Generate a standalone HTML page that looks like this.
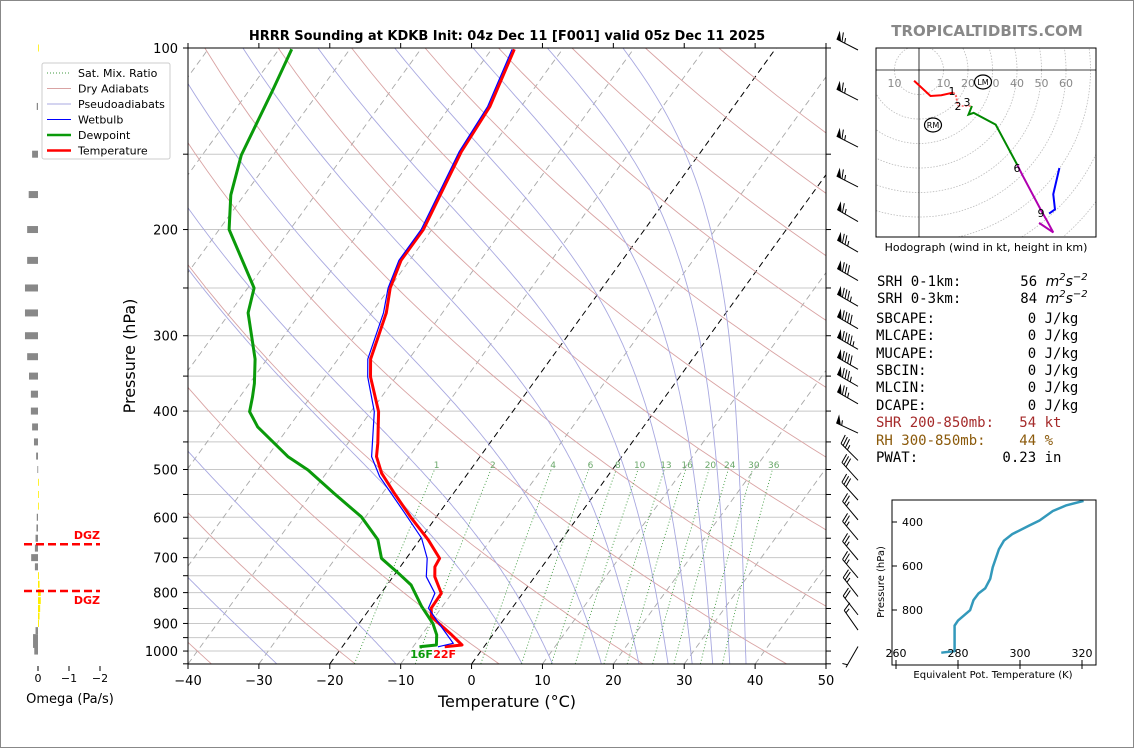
<!DOCTYPE html>
<html><head><meta charset="utf-8"><style>
html,body{margin:0;padding:0;background:#fff}
svg{display:block;font-family:"DejaVu Sans","Liberation Sans",sans-serif}
.mono{font-family:"DejaVu Sans Mono","Liberation Mono",monospace;font-size:14px}
</style></head><body>
<svg id="fig" width="1134" height="748" viewBox="0 0 1134 748" xmlns="http://www.w3.org/2000/svg">
<rect x="0.5" y="0.5" width="1133" height="747" fill="#fff" stroke="#888"/>
<defs>
<clipPath id="mainclip"><rect x="188" y="48" width="638" height="616"/></clipPath>
<clipPath id="hodoclip"><rect x="876" y="48" width="220" height="189"/></clipPath>
<clipPath id="teclip"><rect x="892" y="500" width="204" height="165"/></clipPath>
</defs>
<text x="507" y="40" text-anchor="middle" font-size="13" font-weight="bold">HRRR Sounding at KDKB Init: 04z Dec 11 [F001] valid 05z Dec 11 2025</text>
<text x="987" y="36" text-anchor="middle" font-size="15" font-weight="bold" fill="#888">TROPICALTIDBITS.COM</text>
<g id="bg" clip-path="url(#mainclip)"></g>
<g id="profiles" clip-path="url(#mainclip)"></g>
<g id="axes"></g>
<g id="barbs"></g>
<g id="omega"></g>
<g id="hodo"></g>
<g id="te"></g>
<g id="stats" class="mono">
<text xml:space="preserve" x="877" y="286">SRH 0-1km:       56 <tspan font-style="italic" font-family="DejaVu Sans">m<tspan dy="-6" font-size="10">2</tspan><tspan dy="6">s</tspan><tspan dy="-6" font-size="10">−2</tspan></tspan></text>
<text xml:space="preserve" x="877" y="303">SRH 0-3km:       84 <tspan font-style="italic" font-family="DejaVu Sans">m<tspan dy="-6" font-size="10">2</tspan><tspan dy="6">s</tspan><tspan dy="-6" font-size="10">−2</tspan></tspan></text>
<text xml:space="preserve" x="876" y="323">SBCAPE:           0 J/kg</text>
<text xml:space="preserve" x="876" y="340">MLCAPE:           0 J/kg</text>
<text xml:space="preserve" x="876" y="358">MUCAPE:           0 J/kg</text>
<text xml:space="preserve" x="876" y="375">SBCIN:            0 J/kg</text>
<text xml:space="preserve" x="876" y="392">MLCIN:            0 J/kg</text>
<text xml:space="preserve" x="876" y="410">DCAPE:            0 J/kg</text>
<text xml:space="preserve" x="876" y="427" fill="#a52a2a">SHR 200-850mb:   54 kt</text>
<text xml:space="preserve" x="876" y="445" fill="#8b5a0b">RH 300-850mb:    44 %</text>
<text xml:space="preserve" x="876" y="462">PWAT:          0.23 in</text>
</g>
</svg>
<script>
// ---------- data ----------
const tempP=[100.5,125,148.6,200,225,250,275,328,351,401,452,476,507,548,602,654,702,725,753,802,849,877,940,977,984];
const tempT=[-56.8,-54.4,-53.8,-51.2,-51.2,-49.9,-47.9,-45.4,-43.6,-38.9,-35.8,-34.6,-32.2,-28.3,-23.4,-18.8,-15.3,-15.1,-14.1,-11.5,-11.4,-10.5,-5.8,-3.3,-5.55];
const dewP=[100.5,117.4,150.5,175.3,200,226,250,275,328,360,379,401,425,476,501,548,599,654,702,743,777,844,900,940,977,984];
const dewT=[-88.2,-86.7,-84.5,-81.9,-78.6,-73.4,-69.1,-67.4,-61.7,-59.3,-58.2,-57.1,-54.4,-47.1,-42.9,-36.8,-30.6,-25.9,-23.5,-19.6,-16.6,-12.9,-9.6,-7.9,-6.9,-9.1];
const wbP=[100.5,125,148.6,200,225,250,275,328,351,401,476,514,591,650,702,753,802,849,911,971,984];
const wbT=[-57.1,-54.7,-54.1,-51.5,-51.5,-50.2,-48.3,-45.8,-44.0,-39.5,-35.3,-32.1,-24.8,-19.9,-17.05,-15.3,-12.4,-11.8,-8.1,-4.7,-6.5];
const isoTemps=[-120,-110,-100,-90,-80,-70,-60,-50,-40,-30,-20,-10,0,10,20,30,40,50];
const dryThetaC=[-100,-80,-60,-40,-20,0,20,40,60,80,100,120,140,160,180,200];
const moistStartT=[-27.5,-10.7,7.1,11.4,18.3,23.6,27.7,31.1,34.0,36.4,38.7];
const mixRatios=[1,2,4,6,8,10,13,16,20,24,30,36];
const xTicks=[-40,-30,-20,-10,0,10,20,30,40,50];
const pLabels=[100,200,300,400,500,600,700,800,900,1000];
const barbP=[100,122,146,170,194,218,243,268,292,316,341,364,389,435,483,521,562,606,654,706,756,812,871,923,983];
const barbSpd=[65,65,65,65,65,75,80,85,90,95,90,85,75,55,35,30,30,25,25,25,25,25,20,15,5];
const barbDir=[297,297,297,297,300,300,300,300,300,300,300,300,300,295,315,318,318,320,320,320,320,322,322,325,210];
const omegaP=[100,125,150,175,200,225,250,275,300,325,350,375,400,425,450,475,500,525,550,575,600,625,650,675,700,725,750,775,800,825,850,875,900,925,950,975,1000];
const omegaV=[-0.02,0.04,0.19,0.3,0.35,0.35,0.42,0.42,0.42,0.35,0.29,0.23,0.23,0.19,0.13,0.06,0.02,-0.02,-0.02,-0.02,0.04,0.05,0.08,0.1,0.22,0.1,-0.03,-0.05,-0.09,-0.09,-0.07,-0.05,-0.03,0.08,0.16,0.16,0.12];
const dgzP=[665,795];
const hodoU=[-2.0,4.7,9.1,14.0,15.1,16.0,21.6,20.2,22.3,31.3,40.2,42.3,50.0,52.0,54.8,49.0];
const hodoV=[-4.4,-10.6,-10.3,-9.2,-10.6,-14.7,-14.7,-18.2,-17.5,-22.3,-38.9,-43.1,-57.6,-61.1,-66.3,-62.4];
const hodoBlueU=[53.1,55.5,54.8,57.3];
const hodoBlueV=[-58.6,-56.9,-50.7,-40.0];
const teP=[994,987,871,848,801,755,725,701,658,606,524,485,455,416,393,350,324,304];
const teK=[274.6,278.9,278.9,280.0,283.9,285.0,286.6,288.8,290.4,291.2,293.2,294.8,297.5,303.0,306.3,310.6,315.0,320.5];
const teTicksX=[260,280,300,320];
const teTicksY=[400,600,800];

// ---------- helpers ----------
const NS='http://www.w3.org/2000/svg';
function mk(tag,attrs,parent){const e=document.createElementNS(NS,tag);for(const k in attrs)e.setAttribute(k,attrs[k]);parent.appendChild(e);return e;}
const yP=p=>48+261.9*Math.log(p/100);
const xT=(T,p)=>188+(T+40)*7.089+(664-yP(p))*0.7245;
function pts(Ps,Ts){return Ps.map((p,i)=>xT(Ts[i],p).toFixed(1)+','+yP(p).toFixed(1)).join(' ');}
const bg=document.getElementById('bg'),prof=document.getElementById('profiles'),ax=document.getElementById('axes');

for(let p=100;p<=1050;p+=50){
  const l=mk('line',{x1:188,x2:826,y1:yP(p),y2:yP(p),stroke:'#c8c8c8','stroke-width':1},bg);
  
  
}
isoTemps.forEach(T=>{
  const blk=(T===-20||T===0);
  const l=mk('line',{x1:xT(T,1050),y1:yP(1050),x2:xT(T,100),y2:yP(100),stroke:blk?'#000':'#a8a8a8','stroke-width':blk?1:0.9,'stroke-dasharray':'6,4'},bg);
  
  
});
dryThetaC.forEach(tc=>{
  const th=tc+273.15;const a=[];
  for(let p=1050;p>=100;p-=10){a.push(xT(th*Math.pow(p/1000,0.2857)-273.15,p).toFixed(1)+','+yP(p).toFixed(1));}
  const l=mk('polyline',{points:a.join(' '),fill:'none',stroke:'#d9a3a3','stroke-width':0.9},bg);
  
  
});
function es(Tc){return 6.112*Math.exp(17.67*Tc/(Tc+243.5));}
function moistGrad(T,p){const Tc=T-273.15;const e=es(Tc);const rs=0.622*e/(p-e);
  return (1/p)*(287.04*T+2.501e6*rs)/(1005.7+2.501e6*2.501e6*rs*0.622/(287.04*T*T));}
moistStartT.forEach(t0=>{
  let T=t0+273.15;const a=[];
  for(let p=1050;p>=100;p-=5){a.push(xT(T-273.15,p).toFixed(1)+','+yP(p).toFixed(1));
    const h=-5;const k1=moistGrad(T,p);const k2=moistGrad(T+k1*h/2,p+h/2);T+=k2*h;}
  const l=mk('polyline',{points:a.join(' '),fill:'none',stroke:'#a8a8e0','stroke-width':0.9},bg);
  
  
});
function tdW(w,p){const e=w*p/(622+w);const l=Math.log(e/6.112);return 243.5*l/(17.67-l);}
mixRatios.forEach(w=>{
  const a=[];for(let p=1050;p>=500;p-=25)a.push(xT(tdW(w,p),p).toFixed(1)+','+yP(p).toFixed(1));
  const l=mk('polyline',{points:a.join(' '),fill:'none',stroke:'#3f9a3f','stroke-width':0.9,'stroke-dasharray':'1,2.2'},bg);
  
  
  const t=mk('text',{x:xT(tdW(w,491),491),y:yP(491)+3,'text-anchor':'middle','font-size':9,fill:'#6aa86a'},bg);
  t.textContent=w;
  
  
});
let e1=mk('polyline',{points:pts(tempP,tempT),fill:'none',stroke:'#ff0000','stroke-width':3,'stroke-linejoin':'round'},prof);


let e2=mk('polyline',{points:pts(dewP,dewT),fill:'none',stroke:'#0a9a0a','stroke-width':3,'stroke-linejoin':'round'},prof);


let e3=mk('polyline',{points:pts(wbP,wbT),fill:'none',stroke:'#0000ff','stroke-width':1.2},prof);


let s1=mk('text',{x:xT(dewT[dewT.length-1],984)+2,y:658,'text-anchor':'middle','font-size':11,'font-weight':'bold',fill:'#0a9a0a'},ax);
s1.textContent='16F';


let s2=mk('text',{x:xT(tempT[tempT.length-1],984)+0,y:658,'text-anchor':'middle','font-size':11,'font-weight':'bold',fill:'#ff0000'},ax);
s2.textContent='22F';


let fr=mk('rect',{x:188,y:48,width:638,height:616,fill:'none',stroke:'#000','stroke-width':1},ax);


xTicks.forEach(T=>{const x=188+(T+40)*7.089;
  mk('line',{x1:x,x2:x,y1:664,y2:669,stroke:'#000'},ax);
  mk('line',{x1:x,x2:x,y1:48,y2:43,stroke:'#000'},ax);
  const t=mk('text',{x:x,y:685,'text-anchor':'middle','font-size':13},ax);
  t.textContent=(T<0?'−':'')+Math.abs(T);
  
  
});
for(let p=100;p<=1050;p+=50){const y=yP(p);
  mk('line',{x1:188,x2:183,y1:y,y2:y,stroke:'#000'},ax);
  mk('line',{x1:826,x2:831,y1:y,y2:y,stroke:'#000'},ax);}
pLabels.forEach(p=>{const t=mk('text',{x:178,y:yP(p)+5,'text-anchor':'end','font-size':13},ax);
  t.textContent=p;
  
  });
let xl=mk('text',{x:507,y:707,'text-anchor':'middle','font-size':16},ax);
xl.textContent='Temperature (°C)';


let yl=mk('text',{x:0,y:0,'text-anchor':'middle','font-size':16,transform:'translate(135,356) rotate(-90)'},ax);
yl.textContent='Pressure (hPa)';



const bgB=document.getElementById('barbs');
barbP.forEach((p,i)=>{
  const g=mk('g',{},bgB);
  
  
  const bx=858,by=yP(p)+(i===0?2:0),L=24,d=barbDir[i]*Math.PI/180;
  const ux=Math.sin(d),uy=-Math.cos(d),px=-uy,py=ux;
  const tx=bx+ux*L,ty=by+uy*L;
  mk('line',{x1:bx,y1:by,x2:tx,y2:ty,stroke:'#000','stroke-width':1},g);
  let s=Math.round(barbSpd[i]/5)*5,pos=0;
  while(s>=50){const ax1=tx-ux*pos,ay1=ty-uy*pos;
    mk('polygon',{points:`${ax1},${ay1} ${ax1-ux*5},${ay1-uy*5} ${ax1+px*9+ux*1},${ay1+py*9+uy*1}`,fill:'#000'},g);pos+=6;s-=50;}
  while(s>=10){const ax1=tx-ux*pos,ay1=ty-uy*pos;
    mk('line',{x1:ax1,y1:ay1,x2:ax1+px*9+ux*3,y2:ay1+py*9+uy*3,stroke:'#000','stroke-width':1},g);pos+=3;s-=10;}
  if(s>=5){if(pos===0)pos=3;const ax1=tx-ux*pos,ay1=ty-uy*pos;
    mk('line',{x1:ax1,y1:ay1,x2:ax1+px*5+ux*1.5,y2:ay1+py*5+uy*1.5,stroke:'#000','stroke-width':1},g);}
});

const om=document.getElementById('omega');
const xO=v=>38-v*31;
omegaP.forEach((p,i)=>{const v=omegaV[i];const x=xO(v);
  const r=mk('rect',{x:Math.min(x,38),y:yP(p)-3.5,width:Math.max(Math.abs(x-38),0.8),height:7,fill:v>=0?'#888':'#ffee00'},om);
  
  });
dgzP.forEach((p,i)=>{const y=yP(p);
  const l=mk('line',{x1:24,x2:100,y1:y,y2:y,stroke:'#ff0000','stroke-width':2.5,'stroke-dasharray':'8,4'},om);
  
  
  const t=mk('text',{x:100,y:i===0?y-5:y+13,'text-anchor':'end','font-size':11,'font-weight':'bold',fill:'#ff0000'},om);
  t.textContent='DGZ';
  
  });
[0,-1,-2].forEach(v=>{const x=xO(v);mk('line',{x1:x,x2:x,y1:666,y2:671,stroke:'#000'},om);
  const t=mk('text',{x:x,y:682,'text-anchor':'middle','font-size':11},om);
  t.textContent=v===0?'0':'−'+Math.abs(v);
  
  });
let ot=mk('text',{x:70,y:703,'text-anchor':'middle','font-size':13},om);
ot.textContent='Omega (Pa/s)';


const lg=mk('g',{},om);


mk('rect',{x:42,y:63,width:128,height:96,rx:2,fill:'#fff',stroke:'#ccc'},lg);
const legItems=[['Sat. Mix. Ratio','#3f9a3f',1,'1,2'],['Dry Adiabats','#d9a3a3',1,''],['Pseudoadiabats','#a8a8e0',1,''],['Wetbulb','#0000ff',1,''],['Dewpoint','#0a9a0a',2.5,''],['Temperature','#ff0000',2.5,'']];
legItems.forEach((it,i)=>{const y=73+i*15.5;const g=mk('g',{},lg);
  
  
  mk('line',{x1:47,x2:71,y1:y,y2:y,stroke:it[1],'stroke-width':it[2],'stroke-dasharray':it[3]},g);
  const t=mk('text',{x:78,y:y+4,'font-size':11},g);t.textContent=it[0];});

const hd=document.getElementById('hodo');
const hx=u=>919+u*2.45,hy=v=>70-v*2.45;
const hc=mk('g',{'clip-path':'url(#hodoclip)'},hd);
for(let r=10;r<=100;r+=10){const c=mk('circle',{cx:919,cy:70,r:r*2.45,fill:'none',stroke:'#bbb','stroke-width':0.8,'stroke-dasharray':'1.5,1.5'},hc);
  
  }
mk('line',{x1:876,x2:1096,y1:70,y2:70,stroke:'#000','stroke-width':0.8},hc);
mk('line',{x1:919,x2:919,y1:48,y2:237,stroke:'#000','stroke-width':0.8},hc);
[[10,-1],[10,1],[20,1],[30,1],[40,1],[50,1],[60,1]].forEach(a=>{const t=mk('text',{x:919+a[1]*a[0]*2.45,y:87,'text-anchor':'middle','font-size':11,fill:'#888'},hc);t.textContent=a[0];
  
  });
function hseg(a,b,col,dash){const p=[];for(let i=a;i<=b;i++)p.push(hx(hodoU[i])+','+hy(hodoV[i]));
  const l=mk('polyline',{points:p.join(' '),fill:'none',stroke:col,'stroke-width':2,'stroke-dasharray':dash||''},hc);
  
  }
hseg(0,3,'#ff0000');hseg(3,5,'#ff6060','2,1.5');hseg(5,6,'#ff9090','2,1.5');hseg(6,10,'#008800');hseg(10,15,'#b000b0');
const hb=mk('polyline',{points:hodoBlueU.map((u,i)=>hx(u)+','+hy(hodoBlueV[i])).join(' '),fill:'none',stroke:'#0000ff','stroke-width':2},hc);


[['1',952,95],['2',958,110],['3',967,106],['6',1017,172],['9',1041,217]].forEach(a=>{const t=mk('text',{x:a[1],y:a[2],'text-anchor':'middle','font-size':11},hc);t.textContent=a[0];
  
  });
[['LM',983,82],['RM',933,125]].forEach(a=>{const g=mk('g',{},hc);
  
  
  mk('ellipse',{cx:a[1],cy:a[2],rx:8.5,ry:7,fill:'#fff',stroke:'#000','stroke-width':1.2},g);
  const t=mk('text',{x:a[1],y:a[2]+3,'text-anchor':'middle','font-size':8},g);t.textContent=a[0];});
mk('rect',{x:876,y:48,width:220,height:189,fill:'none',stroke:'#000'},hd);
let hcap=mk('text',{x:986,y:251,'text-anchor':'middle','font-size':11},hd);
hcap.textContent='Hodograph (wind in kt, height in km)';



const te=document.getElementById('te');
const tx=k=>896+(k-260)*3.1,ty=p=>522+(p-400)*0.22;
const tc=mk('g',{'clip-path':'url(#teclip)'},te);
const tl=mk('polyline',{points:teK.map((k,i)=>tx(k)+','+ty(teP[i])).join(' '),fill:'none',stroke:'#3399bb','stroke-width':2.5,'stroke-linejoin':'round'},tc);


mk('rect',{x:892,y:500,width:204,height:165,fill:'none',stroke:'#000'},te);
teTicksX.forEach(k=>{mk('line',{x1:tx(k),x2:tx(k),y1:665,y2:660,stroke:'#000'},te);
  mk('line',{x1:tx(k),x2:tx(k),y1:665,y2:669,stroke:'#000'},te);
  const t=mk('text',{x:tx(k),y:657,'text-anchor':'middle','font-size':11},te);t.textContent=k;
  
  });
teTicksY.forEach(p=>{mk('line',{x1:892,x2:897,y1:ty(p),y2:ty(p),stroke:'#000'},te);
  const t=mk('text',{x:902,y:ty(p)+4,'font-size':11},te);t.textContent=p;
  
  });
let tey=mk('text',{x:0,y:0,'text-anchor':'middle','font-size':10,transform:'translate(884,582) rotate(-90)'},te);
tey.textContent='Pressure (hPa)';


let tex=mk('text',{x:993,y:678,'text-anchor':'middle','font-size':10},te);
tex.textContent='Equivalent Pot. Temperature (K)';


</script>
</body></html>
